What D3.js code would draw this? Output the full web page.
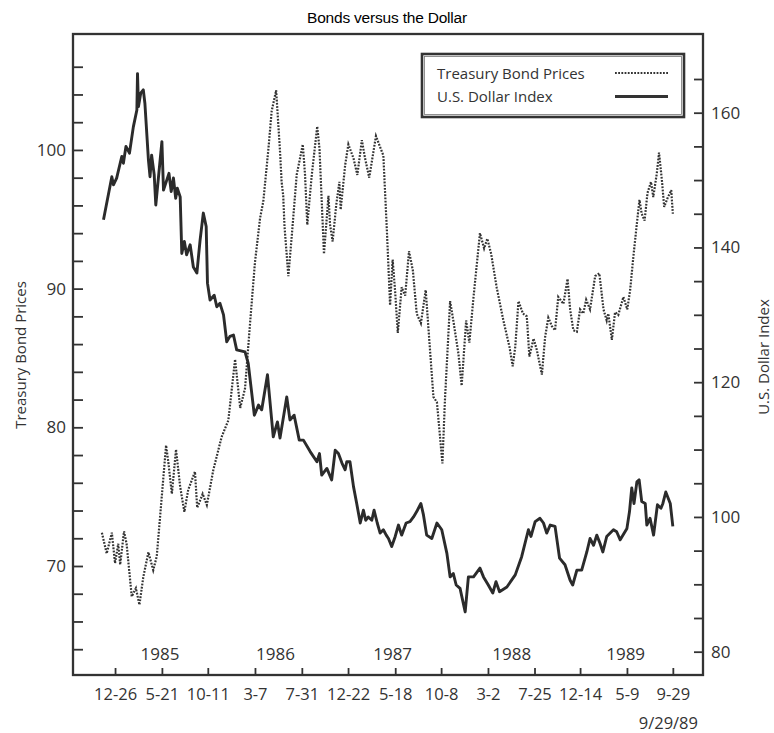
<!DOCTYPE html>
<html><head><meta charset="utf-8">
<script src="https://cdn.jsdelivr.net/npm/d3@7"></script>
<style>body{margin:0;background:#fff}svg{display:block}</style>
</head><body>
<svg id="chart" width="774" height="733"></svg>
<script>
// ---- data (days counted from the first labelled week, 1984-12-26) ----
const startDate = "1984-12-26";

const bondDays = [-41,-26,-10,0,10,16,28,36,52,65,
  76,88,104,119,130,159,166,177,190,203,
  216,228,249,256,273,286,306,332,353,374,
  390,405,421,436,452,462,478,488,502,514,
  519,524,528,540,551,566,585,592,599,613,
  630,637,651,665,670,678,689,699,703,717,
  727,743,755,769,779,792,813,826,836,847,
  857,865,873,881,893,904,916,928,940,953,
  968,976,992,1003,1020,1028,1044,1054,1070,1080,
  1094,1104,1117,1137,1150,1160,1172,1189,1210,1229,
  1239,1247,1257,1271,1283,1291,1304,1314,1330,1340,
  1350,1361,1371,1381,1397,1410,1418,1428,1439,1449,
  1459,1468,1480,1496,1509,1522,1532,1537,1548,1558,
  1568,1584,1596,1605,1615,1626,1634,1641,1650,1659,
  1670,1677,1688,1695,1704,1711,1721,1733,1738];
const bondValues = [72.4,70.9,72.4,70.2,71.6,70.1,72.5,71.6,67.8,68.4,
  67.2,69.2,71.0,69.7,70.7,78.7,77.5,75.2,78.4,75.7,
  73.9,75.5,76.8,74.2,75.2,74.4,76.9,79.3,80.5,84.9,
  81.4,82.8,87.6,91.9,95.1,96.3,100.1,102.8,104.3,99.9,
  97.7,96.7,94.5,90.9,93.9,98.2,100.4,98.2,94.6,98.2,
  101.7,100.1,92.5,96.7,94.6,93.4,96.0,97.7,95.7,98.9,
  100.4,99.4,98.2,100.7,99.4,98.0,101.0,100.2,99.6,94.2,
  88.8,92.1,89.7,86.8,90.1,89.5,92.7,91.3,88.2,87.5,
  89.9,87.3,82.2,81.8,77.4,82.0,89.1,87.7,85.3,83.0,
  87.7,86.1,89.4,94.0,92.9,93.6,92.5,90.1,87.7,85.8,
  84.4,85.8,89.1,88.2,88.0,85.1,86.4,85.6,83.8,86.5,
  87.9,87.3,87.0,89.4,88.9,90.7,88.5,87.0,86.9,88.5,
  88.2,89.2,88.5,90.9,91.1,88.5,87.7,88.2,86.3,88.3,
  88.1,89.4,88.5,89.9,92.3,94.7,96.4,95.4,94.9,96.9,
  97.7,96.6,98.3,99.8,97.8,95.9,96.5,97.1,95.4];

const dollarDays = [-36,-10,-5,5,21,26,34,45,57,68,
  70,73,80,88,93,104,109,114,122,127,
  146,151,168,175,182,189,194,203,208,216,
  223,234,244,255,265,275,284,288,296,309,
  317,327,338,348,358,369,379,405,415,434,
  447,457,475,493,506,514,535,545,558,574,
  587,608,629,637,644,660,675,686,696,707,
  717,722,732,743,753,764,774,781,789,800,
  807,817,826,836,845,852,862,873,883,893,
  907,919,930,940,953,961,971,987,1003,1018,
  1034,1044,1054,1063,1075,1091,1101,1117,1137,1148,
  1163,1177,1187,1198,1221,1247,1267,1288,1296,1309,
  1324,1335,1345,1356,1371,1385,1402,1418,1426,1439,
  1454,1470,1480,1491,1501,1511,1520,1532,1553,1563,
  1574,1595,1603,1610,1617,1626,1633,1641,1652,1657,
  1667,1678,1690,1701,1707,1716,1730,1738];
const dollarValues = [144.1,150.5,149.3,150.3,153.5,152.5,155.0,154.0,157.9,160.4,
  165.8,160.9,162.9,163.4,161.4,153.0,150.5,153.7,150.8,146.3,
  155.7,148.5,151.0,148.3,150.3,147.3,148.8,147.5,139.1,140.9,
  138.9,140.4,137.1,136.2,141.1,145.1,143.1,134.7,132.2,132.9,
  131.2,131.7,130.0,126.0,126.8,127.0,124.8,124.5,122.8,115.1,
  116.6,115.9,121.1,111.9,114.1,111.7,117.8,114.4,115.1,111.4,
  111.4,109.7,108.2,109.4,106.2,107.2,105.5,109.9,109.4,108.0,
  107.0,108.2,108.2,104.5,102.0,99.1,101.0,99.5,100.0,99.5,
  101.0,99.1,97.6,98.1,97.3,96.8,95.6,97.1,98.8,97.3,
  99.1,99.3,100.0,100.8,102.0,100.3,97.3,96.8,99.1,98.1,
  94.6,91.1,91.6,89.9,89.4,85.9,91.1,91.1,92.4,91.1,
  89.9,88.7,90.4,88.9,89.6,91.4,94.1,98.1,97.1,99.3,
  99.8,99.1,97.6,98.8,98.6,93.9,92.9,90.6,89.9,92.1,
  92.1,94.8,96.8,95.8,97.3,96.1,94.8,97.1,98.1,97.8,
  96.6,98.3,100.8,104.3,102.0,105.2,105.5,102.3,102.0,98.8,
  99.8,97.3,101.8,101.3,102.0,103.7,102.0,98.6];

const xTickDates = ["1984-12-26","1985-05-21","1985-10-11","1986-03-07","1986-07-31","1986-12-22",
  "1987-05-18","1987-10-08","1988-03-02","1988-07-25","1988-12-14","1989-05-09","1989-09-29"];
const xTickLabels = ["12-26","5-21","10-11","3-7","7-31","12-22","5-18","10-8","3-2","7-25","12-14","5-9","9-29"];
const yearLabels = ["1985","1986","1987","1988","1989"];
const yearDates = ["1985-05-15","1986-05-10","1987-05-10","1988-05-15","1989-05-05"];
const leftTicks = [64,66,68,70,72,74,76,78,80,82,84,86,88,90,92,94,96,98,100,102,104,106];
const leftLabels = [70,80,90,100];
const rightTicks = [80,85,90,95,100,105,110,115,120,125,130,135,140,145,150,155,160,165];
const rightLabels = [80,100,120,140,160];
const endDateLabel = "9/29/89";
const titleText = "Bonds versus the Dollar";
const leftTitle = "Treasury Bond Prices";
const rightTitle = "U.S. Dollar Index";

// ---- drawing ----
const parse = d3.timeParse("%Y-%m-%d");
const t0 = parse(startDate);
const toDate = d => d3.timeDay.offset(t0, d);

const L = 73, R = 703, T = 34, B = 675;
const x = d3.scaleTime().domain([parse("1984-08-17"), parse("1990-01-01")]).range([L, R]);
const yL = d3.scaleLinear().domain([62.14, 108.36]).range([B, T]);
const yR = d3.scaleLinear().domain([76.54, 171.68]).range([B, T]);

const svg = d3.select("#chart");
svg.append("rect").attr("width", 774).attr("height", 733).attr("fill", "#fff");

const FONT = "'Open Sans', 'DejaVu Sans', sans-serif";
const INK = "#333";

svg.append("text").attr("x", 387).attr("y", 23).attr("text-anchor", "middle")
  .attr("font-family", "'Liberation Sans', Arial, sans-serif").attr("font-size", 15.5)
  .attr("letter-spacing", -0.2)
  .attr("fill", "#000").text(titleText);

// frame
svg.append("rect").attr("x", L).attr("y", T).attr("width", R - L).attr("height", B - T)
  .attr("fill", "none").attr("stroke", INK).attr("stroke-width", 2.3);

function styleAxis(g, size) {
  g.select(".domain").remove();
  g.selectAll(".tick line").attr("stroke", INK).attr("stroke-width", 1.8);
  g.selectAll(".tick text").attr("font-family", FONT).attr("font-size", size).attr("fill", INK);
}

const gl = svg.append("g").attr("transform", `translate(${L},0)`)
  .call(d3.axisLeft(yL).tickValues(leftTicks).tickSizeInner(-10).tickSizeOuter(0).tickPadding(7)
    .tickFormat(v => leftLabels.includes(v) ? v : ""));
styleAxis(gl, 17);

const gr = svg.append("g").attr("transform", `translate(${R},0)`)
  .call(d3.axisRight(yR).tickValues(rightTicks).tickSizeInner(-9).tickSizeOuter(0).tickPadding(8)
    .tickFormat(v => rightLabels.includes(v) ? v : ""));
styleAxis(gr, 17);

const gb = svg.append("g").attr("transform", `translate(0,${B})`)
  .call(d3.axisBottom(x).tickValues(xTickDates.map(parse)).tickSizeInner(-7).tickSizeOuter(0).tickPadding(13)
    .tickFormat((d, i) => xTickLabels[i]));
styleAxis(gb, 16.5);

// year labels
svg.append("g").selectAll("text").data(yearLabels).join("text")
  .attr("x", (d, i) => x(parse(yearDates[i]))).attr("y", 660)
  .attr("text-anchor", "middle").attr("font-family", FONT).attr("font-size", 17).attr("fill", INK)
  .text(d => d);

svg.append("text").attr("x", 698).attr("y", 729).attr("text-anchor", "end")
  .attr("font-family", FONT).attr("font-size", 16.5).attr("fill", INK).text(endDateLabel);

// axis titles
svg.append("text").attr("transform", "translate(20,355) rotate(-90)")
  .attr("text-anchor", "middle").attr("dominant-baseline", "central")
  .attr("font-family", FONT).attr("font-size", 15).attr("fill", INK).text(leftTitle);
svg.append("text").attr("transform", "translate(763,357) rotate(-90)")
  .attr("text-anchor", "middle").attr("dominant-baseline", "central")
  .attr("font-family", FONT).attr("font-size", 15).attr("fill", INK).text(rightTitle);

// series
const bond = bondDays.map((d, i) => ({ date: toDate(d), v: bondValues[i] }));
const dollar = dollarDays.map((d, i) => ({ date: toDate(d), v: dollarValues[i] }));

svg.append("path").datum(bond)
  .attr("d", d3.line().x(d => x(d.date)).y(d => yL(d.v)))
  .attr("fill", "none").attr("stroke", "#333").attr("stroke-width", 2.2)
  .attr("stroke-dasharray", "1.8,1.4");

svg.append("path").datum(dollar)
  .attr("d", d3.line().x(d => x(d.date)).y(d => yR(d.v)))
  .attr("fill", "none").attr("stroke", "#2b2b2b").attr("stroke-width", 2.9)
  .attr("stroke-linejoin", "round");

// legend
const lg = svg.append("g");
lg.append("rect").attr("x", 422).attr("y", 54).attr("width", 262).attr("height", 63)
  .attr("fill", "#fff").attr("stroke", INK).attr("stroke-width", 2.6);
lg.append("rect").attr("x", 424.5).attr("y", 56.5).attr("width", 257).attr("height", 58)
  .attr("fill", "none").attr("stroke", "#777").attr("stroke-width", 0.8);
const legendItems = [
  { label: leftTitle, dash: "1.8,1.4", w: 2.2, y: 78.5 },
  { label: rightTitle, dash: null, w: 2.9, y: 102 }
];
legendItems.forEach(it => {
  lg.append("text").attr("x", 437).attr("y", it.y).attr("font-family", FONT)
    .attr("font-size", 15).attr("fill", INK).text(it.label);
  lg.append("line").attr("x1", 615).attr("x2", 668).attr("y1", it.y - 5.5).attr("y2", it.y - 5.5)
    .attr("stroke", "#333").attr("stroke-width", it.w)
    .attr("stroke-dasharray", it.dash);
});
</script>
</body></html>
